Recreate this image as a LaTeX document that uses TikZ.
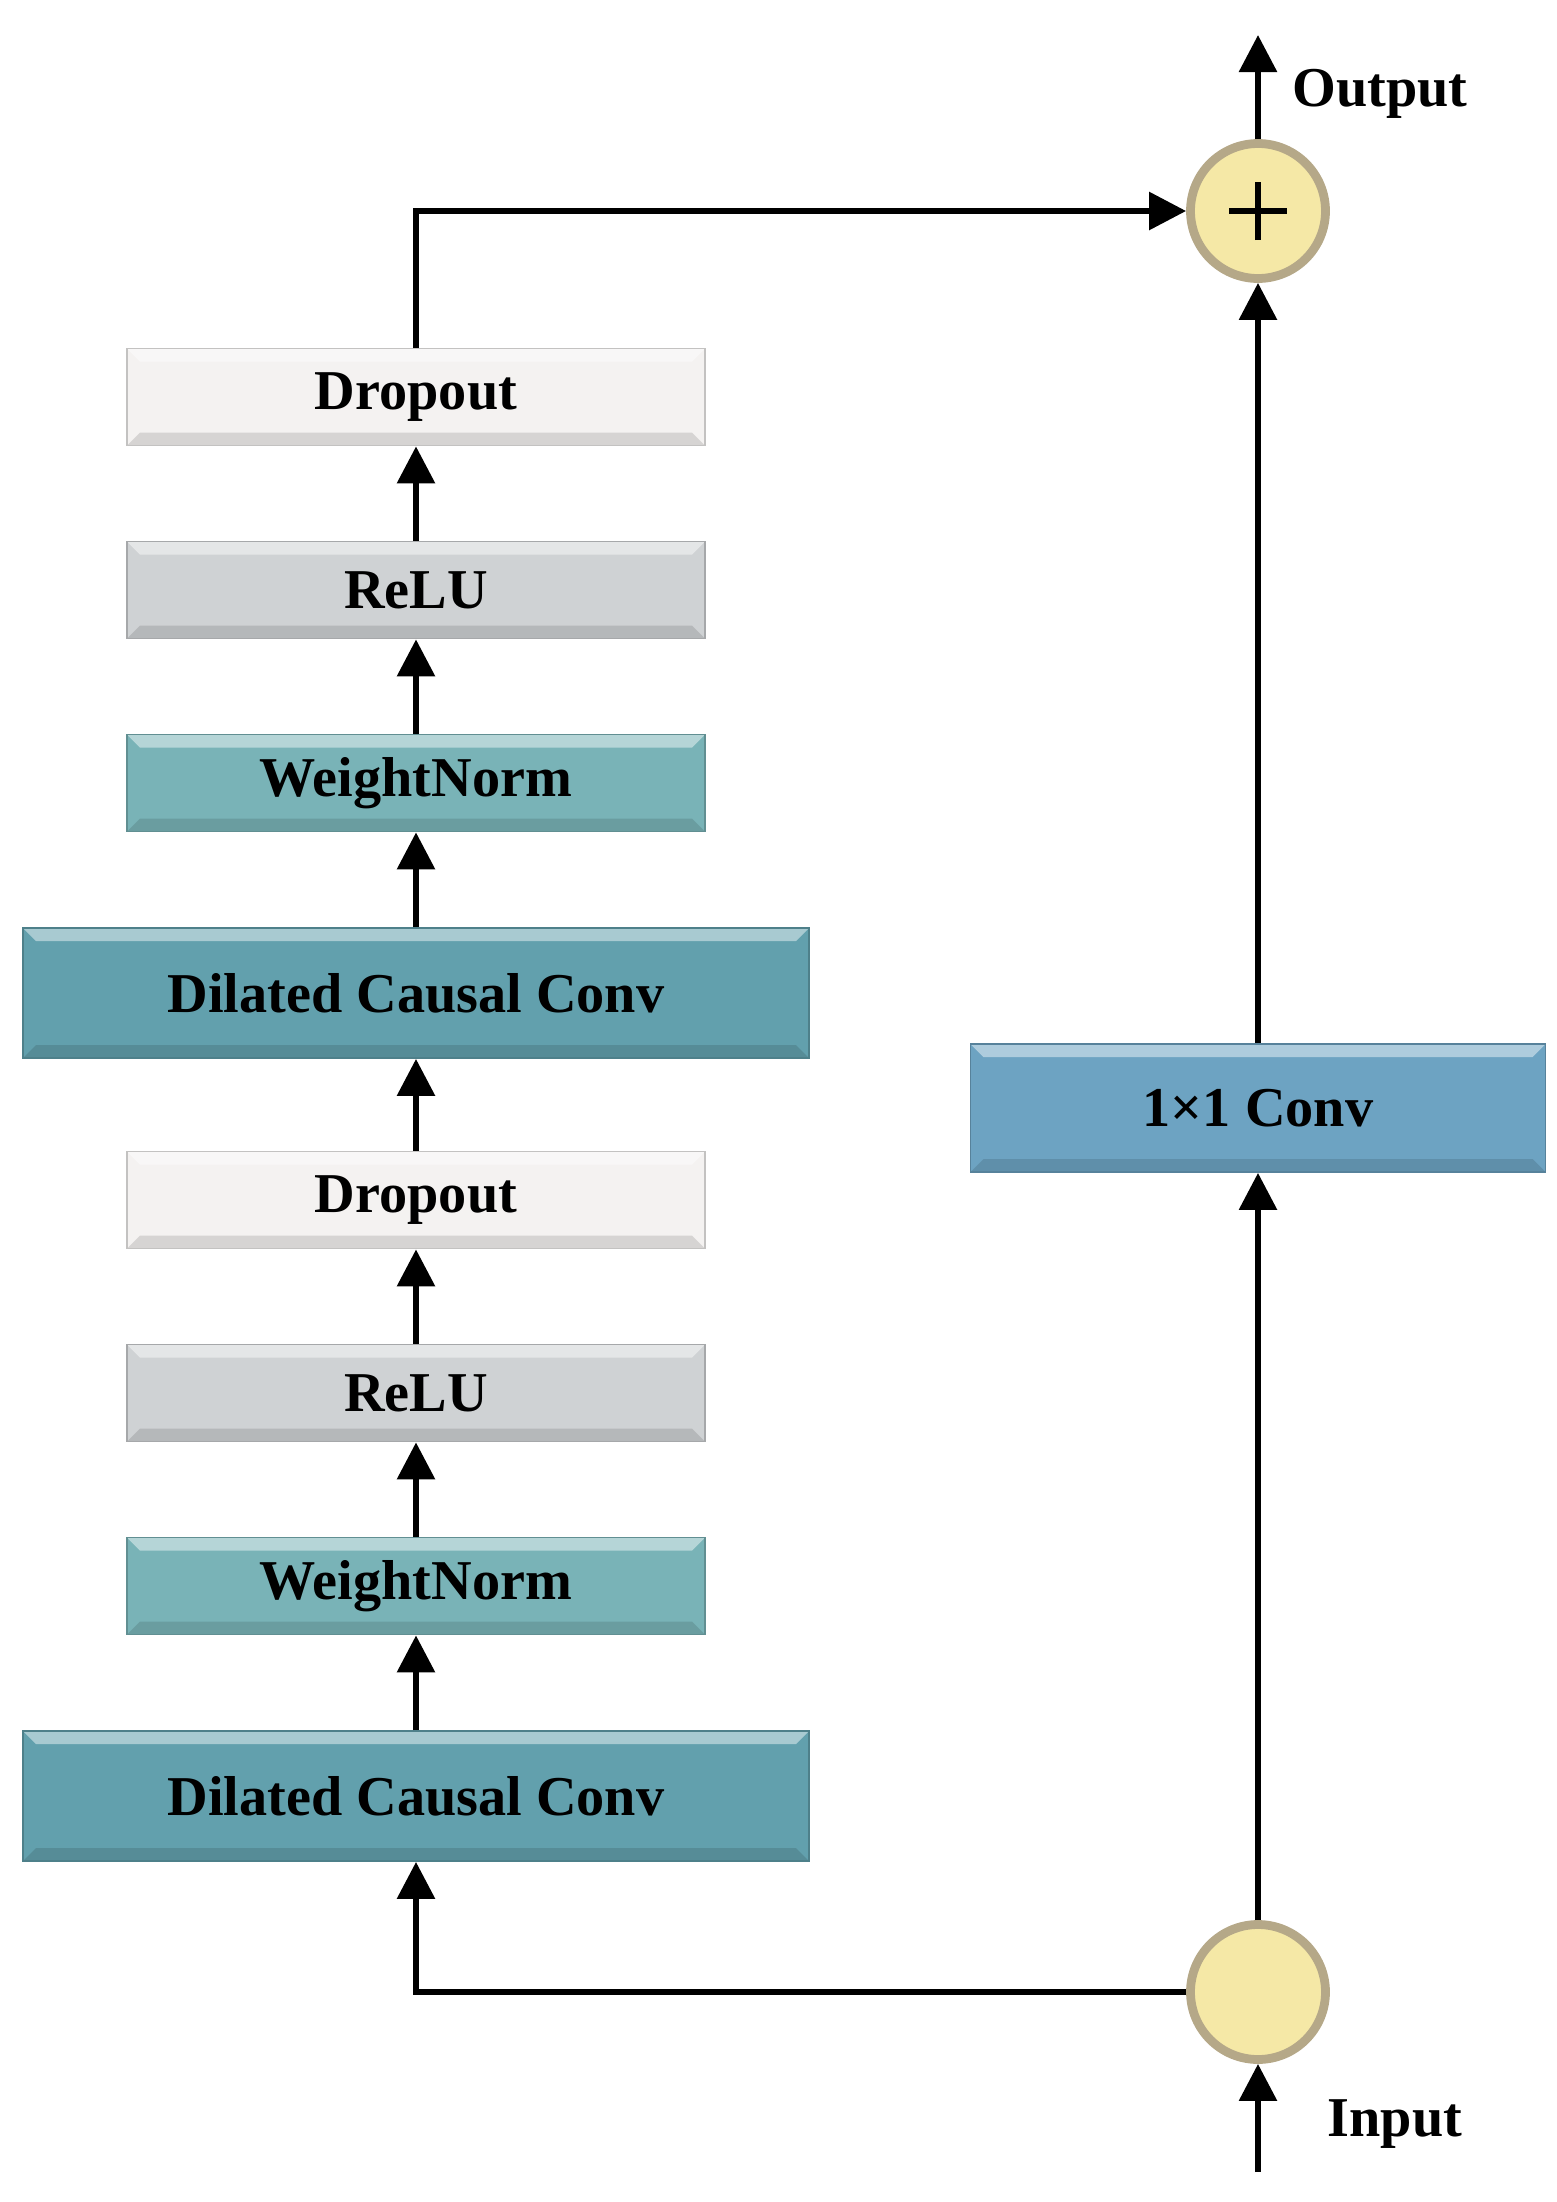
\documentclass[tikz,border=0pt]{standalone}
\usepackage{fontspec}
\setmainfont{Liberation Serif}
\usetikzlibrary{arrows.meta}
\definecolor{dropfill}{HTML}{F4F2F1}
\definecolor{relufill}{HTML}{CFD2D4}
\definecolor{normfill}{HTML}{79B3B7}
\definecolor{dilfill}{HTML}{62A0AD}
\definecolor{onefill}{HTML}{6DA3C2}
\definecolor{beadin}{HTML}{F5E8A6}
\definecolor{beadrim}{HTML}{B5A888}
\begin{document}
\begin{tikzpicture}[line width=1.7pt,
  >={Triangle[width=0.37cm,length=0.37cm]},
  layer node/.style={rectangle,fill=#1,draw=#1!80!black,line width=0.5pt,
    minimum width=5.78cm,minimum height=0.97cm,inner sep=0pt,
    font=\bfseries\fontsize{16}{19}\selectfont,
    path picture={
      \fill[white,opacity=.45] (path picture bounding box.north west) -- (path picture bounding box.north east)
        -- ([shift={(-0.13,-0.13)}]path picture bounding box.north east) -- ([shift={(0.13,-0.13)}]path picture bounding box.north west) -- cycle;
      \fill[black,opacity=.12] (path picture bounding box.south west) -- (path picture bounding box.south east)
        -- ([shift={(-0.13,0.13)}]path picture bounding box.south east) -- ([shift={(0.13,0.13)}]path picture bounding box.south west) -- cycle;
    }},
  wide node/.style={layer node=#1,minimum width=7.86cm,minimum height=1.3cm},
  bead node/.style={circle,fill=beadin,draw=beadrim,line width=2.5pt,minimum size=1.35cm,inner sep=0pt},
  sum node/.style={bead node,path picture={
      \draw[black,line width=0.06cm] ([xshift=-0.29cm]path picture bounding box.center) -- ([xshift=0.29cm]path picture bounding box.center)
        ([yshift=-0.29cm]path picture bounding box.center) -- ([yshift=0.29cm]path picture bounding box.center);}},
  label node/.style={anchor=west,font=\bfseries\fontsize{16}{19}\selectfont}]

  \useasboundingbox (0,0) rectangle (15.57,-22.02);

  \node[layer node=dropfill] (drop1) at (4.16,-3.97) {Dropout};
  \node[layer node=relufill] (relu1) at (4.16,-5.90) {ReLU};
  \node[layer node=normfill] (norm1) at (4.16,-7.83) {WeightNorm};
  \node[wide node=dilfill] (dil1) at (4.16,-9.93) {Dilated Causal Conv};
  \node[layer node=dropfill] (drop2) at (4.16,-12.00) {Dropout};
  \node[layer node=relufill] (relu2) at (4.16,-13.93) {ReLU};
  \node[layer node=normfill] (norm2) at (4.16,-15.86) {WeightNorm};
  \node[wide node=dilfill] (dil2) at (4.16,-17.96) {Dilated Causal Conv};
  \node[wide node=onefill,minimum width=5.75cm,minimum height=1.28cm] (conv) at (12.58,-11.08) {1×1 Conv};
  \node[sum node] (sum) at (12.58,-2.11) {};
  \node[bead node] (split) at (12.58,-19.92) {};
  \coordinate (out) at (12.58,-0.35);
  \coordinate (in) at (12.58,-21.72);
  \node[label node] (outlabel) at (12.78,-0.94) {Output};
  \node[label node] (inlabel) at (13.13,-21.24) {Input};

  \path[->]
   (dil2) edge (norm2)
   (norm2) edge (relu2)
   (relu2) edge (drop2)
   (drop2) edge (dil1)
   (dil1) edge (norm1)
   (norm1) edge (relu1)
   (relu1) edge (drop1)
   (in) edge (split)
   (split) edge (conv)
   (conv) edge (sum)
   (sum) edge (out);
  \draw[->] (drop1.north) |- (sum.west);
  \draw[->] (split.west) -| (dil2.south);
\end{tikzpicture}
\end{document}
